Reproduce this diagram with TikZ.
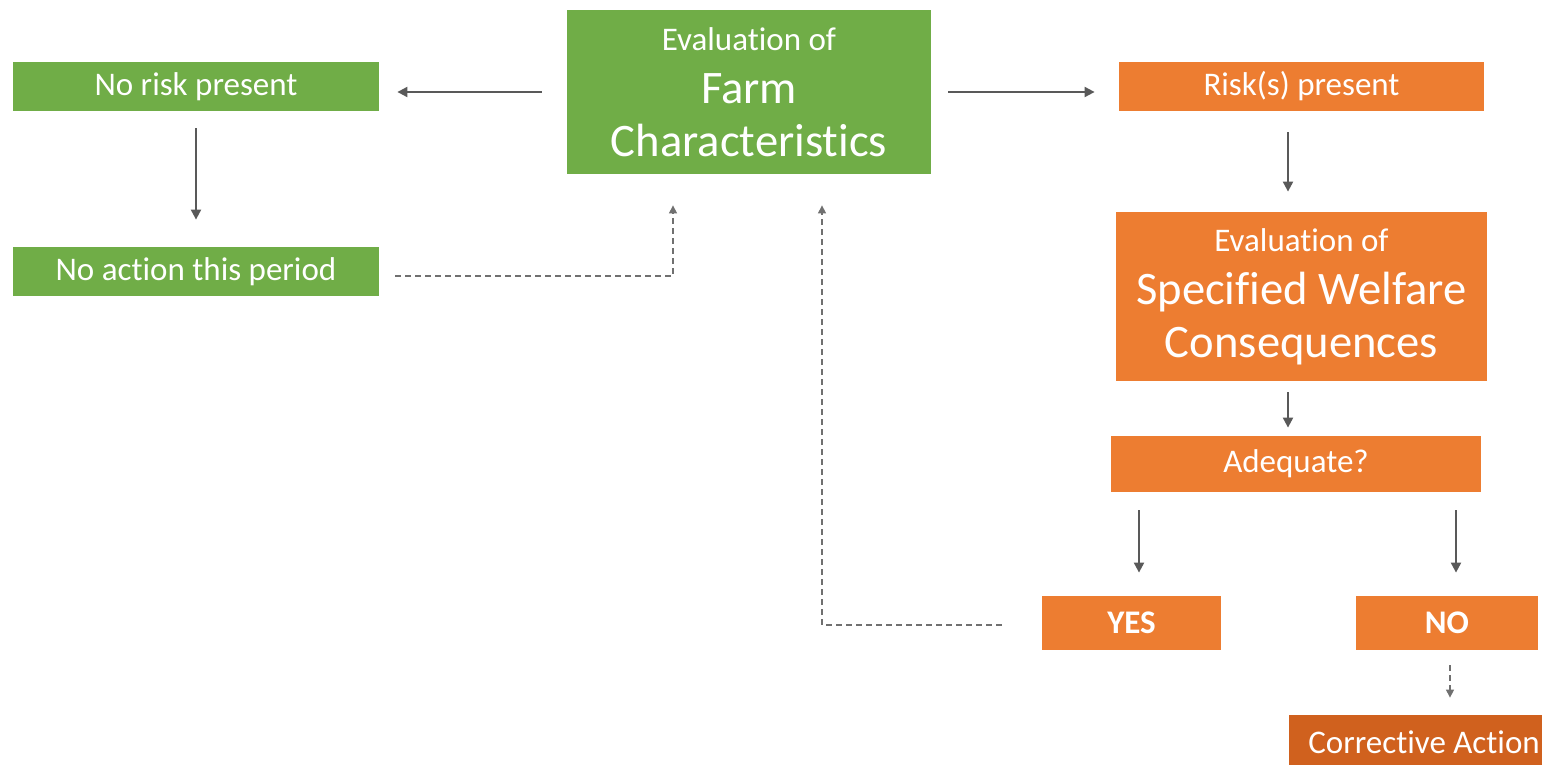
\documentclass[tikz,border=0pt]{standalone}
\usepackage{fontspec}
\setmainfont{Carlito}[Ligatures=NoCommon]
\usetikzlibrary{arrows.meta}
\definecolor{fgreen}{HTML}{70AD47}
\definecolor{forange}{HTML}{ED7D31}
\definecolor{fdark}{HTML}{D0611E}
\definecolor{fline}{HTML}{595959}
\definecolor{fdash}{HTML}{707070}
\tikzset{
  box/.style={inner sep=0pt, text=white, align=center, font=\fontsize{16.5}{20}\selectfont},
  gbox/.style={box, fill=fgreen},
  obox/.style={box, fill=forange},
  conn/.style={draw=fline, line width=1pt, -{Triangle[length=5pt,width=5pt]}},
  dconn/.style={draw=fdash, line width=0.6pt, dash pattern=on 3pt off 2pt, -{Triangle[length=4pt,width=4pt]}},
  bigl/.style={font=\fontsize{23.3}{26.5}\selectfont}
}
\newcommand{\smallline}[1]{{\fontsize{16.5}{26.5}\selectfont #1}}
\begin{document}
\begin{tikzpicture}[x=0.5pt,y=-0.5pt]
\useasboundingbox (0,0) rectangle (1542,765);
\fill[white] (0,0) rectangle (1542,765);
\clip (0,0) rectangle (1542,765);

\node[gbox, minimum width=183pt, minimum height=24.5pt] (norisk) at (196,86.5) {No risk present};
\node[gbox, minimum width=183pt, minimum height=24.5pt] (noaction) at (196,271.5) {No action this period};
\node[gbox, bigl, minimum width=182pt, minimum height=82pt] (farm) at (749,92) {\smallline{Evaluation of}\\Farm\\Characteristics};
\node[obox, minimum width=182.5pt, minimum height=24.5pt] (risk) at (1301.5,86.5) {Risk(s) present};
\node[obox, bigl, minimum width=185.5pt, minimum height=84.5pt] (swc) at (1301.5,296.5) {\smallline{Evaluation of}\\Specified Welfare\\Consequences};
\node[obox, minimum width=185pt, minimum height=28pt] (adequate) at (1296,464) {Adequate?};
\node[obox, minimum width=89.5pt, minimum height=27pt, font=\fontsize{16.5}{20}\selectfont\bfseries] (yes) at (1131.5,623) {YES};
\node[obox, minimum width=91pt, minimum height=27pt, font=\fontsize{16.5}{20}\selectfont\bfseries] (no) at (1447,623) {NO};
\node[box, fill=fdark, minimum width=135pt, minimum height=27pt] (corr) at (1424,742) {Corrective Action};

\draw[conn] ([xshift=-12.5pt]farm.west) -- ([xshift=9pt]farm.west -| norisk.east);
\draw[conn] ([xshift=8.5pt]farm.east) -- ([xshift=-12pt]farm.east -| risk.west);
\draw[conn] ([yshift=-8.5pt]norisk.south) -- ([yshift=13.5pt]noaction.north);
\draw[conn] ([xshift=-6.75pt,yshift=-10.5pt]risk.south) -- ([xshift=-6.75pt,yshift=10pt]swc.north);
\draw[conn] ([xshift=-6.75pt,yshift=-5.5pt]swc.south) -- ([xshift=-4pt,yshift=4pt]adequate.north);
\draw[conn] ([yshift=-9pt]adequate.south -| yes.north) ++(3.75pt,0) -- ([xshift=3.75pt,yshift=11.5pt]yes.north);
\draw[conn] ([yshift=-9pt]adequate.south -| no.north) ++(4.5pt,0) -- ([xshift=4.5pt,yshift=11.5pt]no.north);
\draw[dconn] ([xshift=1.5pt,yshift=-7.5pt]no.south) -- ([xshift=13pt,yshift=8.5pt]corr.north);
\draw[dconn] ([xshift=8pt,yshift=-2.25pt]noaction.east) -| ([xshift=-38pt,yshift=-15.5pt]farm.south);
\draw[dconn] ([xshift=-20pt,yshift=-1pt]yes.west) -| ([xshift=36.5pt,yshift=-15.5pt]farm.south);
\end{tikzpicture}
\end{document}
